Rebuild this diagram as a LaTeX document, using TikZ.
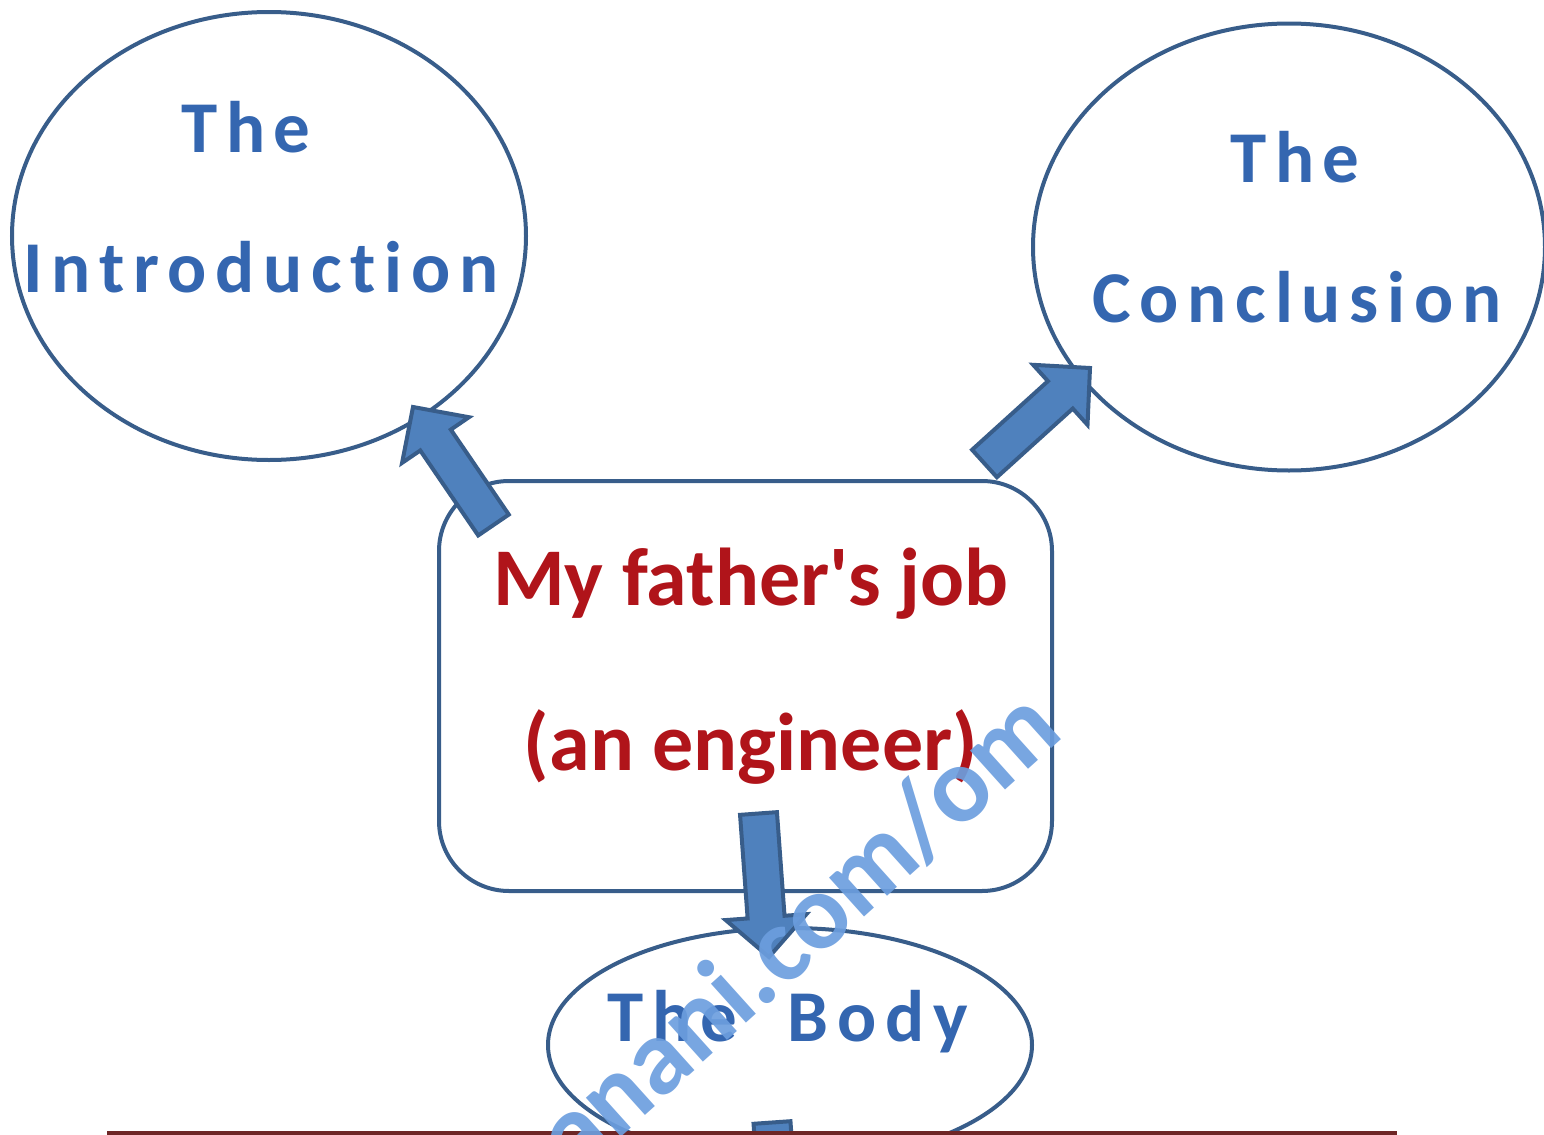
\documentclass[tikz,border=0pt]{standalone}
\usepackage{fontspec}
\usetikzlibrary{shapes.geometric,calc}
\newfontfamily\bluefont[LetterSpace=12,Ligatures=NoCommon]{Carlito}
\newfontfamily\redfont[Ligatures=NoCommon]{Carlito}
\newfontfamily\wmfont{Carlito}
\definecolor{edgeblue}{HTML}{385D8A}
\definecolor{fillblue}{HTML}{4F81BD}
\definecolor{txtblue}{HTML}{3466B0}
\definecolor{txtred}{HTML}{B0141A}
\definecolor{rulered}{RGB}{110,38,38}
\definecolor{wmblue}{RGB}{108,158,222}
\newcommand{\blockarrow}[2]{%
  \coordinate (#1h) at ($(#2)!20pt!(#1)$);
  \draw[blockarr] ($(#1)!9.25pt!90:(#2)$) -- ($(#1h)!9.25pt!-90:(#1)$) -- ($(#1h)!20.25pt!-90:(#1)$) -- (#2) -- ($(#1h)!20.25pt!90:(#1)$) -- ($(#1h)!9.25pt!90:(#1)$) -- ($(#1)!9.25pt!-90:(#2)$) -- cycle;}
\tikzset{
  bubble/.style={ellipse, draw=edgeblue, line width=2pt, inner sep=0pt},
  jobbox/.style={rectangle, draw=edgeblue, line width=2pt, rounded corners=35pt, inner sep=0pt},
  blockarr/.style={draw=edgeblue, fill=fillblue, line width=2pt, line join=miter},
  bluetxt/.style={anchor=base, inner sep=0pt, text=txtblue, font=\bluefont\bfseries\fontsize{36.5pt}{40pt}\selectfont},
  redtxt/.style={anchor=base, inner sep=0pt, text=txtred, font=\redfont\bfseries\fontsize{41pt}{44pt}\selectfont},
  rule/.style={draw=rulered, line width=1.6pt},
  wm/.style={anchor=base east, rotate=42, inner sep=0pt, text=wmblue, text opacity=0.92, font=\wmfont\bfseries\fontsize{54pt}{60pt}\selectfont}
}
\begin{document}
\begin{tikzpicture}[x=0.5pt, y=-0.5pt]
\useasboundingbox (0,0) rectangle (1544,1135);
\clip (0,0) rectangle (1544,1135);
% shapes
\node[bubble, minimum width=257pt, minimum height=224pt] (intro) at (269,236) {};
\node[bubble, minimum width=256pt, minimum height=223.5pt] (concl) at (1289,247) {};
\node[bubble, minimum width=242pt, minimum height=117pt] (body) at (790,1045) {};
\node[jobbox, minimum width=306.5pt, minimum height=205pt] (job) at (745.5,686) {};
% arrows
\coordinate (aA) at (493.5,525);  \coordinate (aAtip) at (413,407);
\coordinate (aB) at (984.5,463.5); \coordinate (aBtip) at (1090,368);
\coordinate (aC) at (758.5,813.5); \coordinate (aCtip) at (769,957);
\coordinate (aD) at (772,1122.5); \coordinate (aDtip) at (782,1266);
\blockarrow{aA}{aAtip}
\blockarrow{aB}{aBtip}
\blockarrow{aC}{aCtip}
\blockarrow{aD}{aDtip}
% texts
\node[bluetxt] (introThe) at (246,152) {The};
\node[bluetxt] (introWord) at (261,292) {Introduction};
\node[bluetxt] (conclThe) at (1295,182) {The};
\node[bluetxt] (conclWord) at (1297,322) {Conclusion};
\node[bluetxt] (bodyWord) at (788,1041) {The\ \ Body};
\node[redtxt] (jobLineA) at (751,605) {My father's job};
\node[redtxt] (jobLineB) at (751,770) {(an engineer)};
% rule
\coordinate (ruleL) at (107,1133);
\coordinate (ruleR) at (1397,1133);
\draw[rule] (ruleL) -- (ruleR);
% watermark
\node[wm] (mark) at (1066,736) {anani.com/om};
\end{tikzpicture}
\end{document}
